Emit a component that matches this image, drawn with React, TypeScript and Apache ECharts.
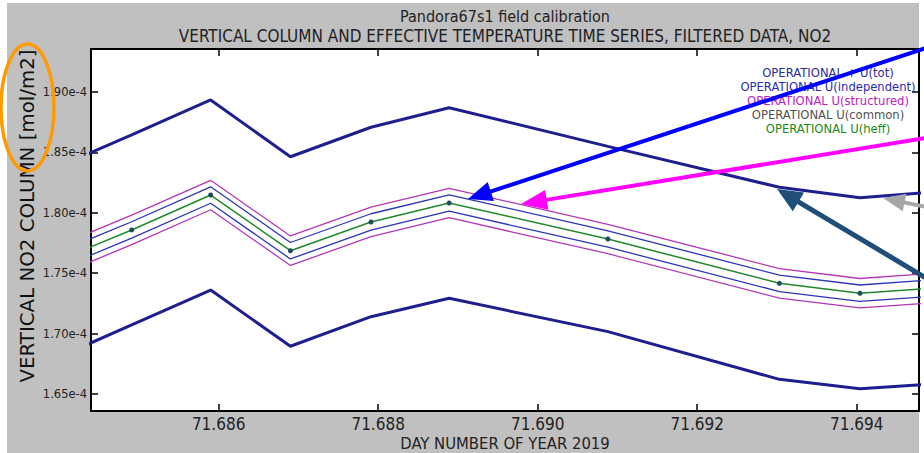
import React, { useEffect, useRef } from "react";
import * as echarts from "echarts";

// Day number of year 2019 for each measurement
const dayOfYear = [71.68391, 71.68491, 71.6859, 71.6869, 71.68791, 71.68889, 71.69088, 71.69303, 71.69404, 71.69504];
// Vertical NO2 column [mol/m2]
const operational = [1.7584e-4, 1.7858e-4, 1.8147e-4, 1.7686e-4, 1.7924e-4, 1.8081e-4, 1.7783e-4, 1.7416e-4, 1.7334e-4, 1.7381e-4];
const totUpper = [1.8357e-4, 1.8646e-4, 1.8934e-4, 1.8464e-4, 1.8708e-4, 1.887e-4, 1.855e-4, 1.8211e-4, 1.8125e-4, 1.8175e-4];
const totLower = [1.678e-4, 1.7072e-4, 1.736e-4, 1.6895e-4, 1.714e-4, 1.7292e-4, 1.7016e-4, 1.6621e-4, 1.6543e-4, 1.6587e-4];
const indepUpper = [1.7652e-4, 1.7926e-4, 1.8215e-4, 1.7754e-4, 1.7992e-4, 1.8149e-4, 1.7851e-4, 1.7484e-4, 1.7402e-4, 1.7449e-4];
const indepLower = [1.7516e-4, 1.779e-4, 1.8079e-4, 1.7618e-4, 1.7856e-4, 1.8013e-4, 1.7715e-4, 1.7348e-4, 1.7266e-4, 1.7313e-4];
const structUpper = [1.7706e-4, 1.798e-4, 1.8269e-4, 1.7808e-4, 1.8046e-4, 1.8203e-4, 1.7905e-4, 1.7538e-4, 1.7456e-4, 1.7503e-4];
const structLower = [1.7462e-4, 1.7736e-4, 1.8025e-4, 1.7564e-4, 1.7802e-4, 1.7959e-4, 1.7661e-4, 1.7294e-4, 1.7212e-4, 1.7259e-4];

const legendLabels = [
  "OPERATIONAL + U(tot)",
  "OPERATIONAL U(independent)",
  "OPERATIONAL U(structured)",
  "OPERATIONAL U(common)",
  "OPERATIONAL U(heff)",
];
const legendColors = ["#2a2a9c", "#2a2ab4", "#c020c0", "#505050", "#1a8a1a"];

const titleLines = [
  "Pandora67s1 field calibration",
  "VERTICAL COLUMN AND EFFECTIVE TEMPERATURE TIME SERIES, FILTERED DATA, NO2",
];
const titleSizes = [16, 17];
const xAxisName = "DAY NUMBER OF YEAR 2019";
const yAxisName = "VERTICAL NO2 COLUMN [mol/m2]";

const NARROW = "'Liberation Sans Narrow', 'DejaVu Sans Condensed', 'Roboto Condensed', sans-serif";
const SANS = "'DejaVu Sans', Verdana, sans-serif";

const pairs = (ys: number[]) => dayOfYear.map((x, i) => [x, ys[i]]);

function arrow(sx: number, sy: number, tx: number, ty: number, color: string, w: number, L: number, W: number) {
  const dx = tx - sx;
  const dy = ty - sy;
  const len = Math.sqrt(dx * dx + dy * dy);
  const ux = dx / len;
  const uy = dy / len;
  const bx = tx - ux * L;
  const by = ty - uy * L;
  const nx = -uy;
  const ny = ux;
  return [
    {
      type: "line",
      z: 100,
      silent: true,
      shape: { x1: sx, y1: sy, x2: bx + ux * 2, y2: by + uy * 2 },
      style: { stroke: color, lineWidth: w },
    },
    {
      type: "polygon",
      z: 101,
      silent: true,
      shape: {
        points: [
          [tx, ty],
          [bx + nx * W, by + ny * W],
          [bx - nx * W, by - ny * W],
        ],
      },
      style: { fill: color },
    },
  ];
}

export default function App() {
  const ref = useRef<HTMLDivElement>(null);
  useEffect(() => {
    if (!ref.current) return;
    const chart = echarts.init(ref.current, null, { renderer: "svg" });
    const lineSeries = (name: string, data: number[], color: string, width: number, z = 2) => ({
      name,
      type: "line",
      data: pairs(data),
      showSymbol: false,
      symbol: "none",
      lineStyle: { color, width },
      itemStyle: { color },
      z,
    });
    const tickStyle = { show: true, inside: true, length: 7, lineStyle: { color: "#000", width: 1.5 } };
    const axisLine = { show: true, onZero: false, lineStyle: { color: "#000", width: 2 } };
    const option: any = {
      animation: false,
      backgroundColor: "transparent",
      grid: {
        left: 91,
        top: 49,
        right: 5,
        bottom: 42,
        containLabel: false,
        outerBoundsMode: "none",
        show: true,
        backgroundColor: "#ffffff",
        borderWidth: 0,
      },
      xAxis: [
        {
          type: "value",
          min: 71.6844,
          max: 71.69478,
          splitNumber: 5,
          position: "bottom",
          axisLine,
          axisTick: tickStyle,
          splitLine: { show: false },
          axisLabel: {
            showMinLabel: false,
            showMaxLabel: false,
            margin: 5,
            color: "#222",
            fontFamily: NARROW,
            fontSize: 17,
            lineHeight: 16,
            formatter: (v: number) => v.toFixed(3),
          },
        },
        {
          type: "value",
          min: 71.6844,
          max: 71.69478,
          splitNumber: 5,
          position: "top",
          axisLine,
          axisTick: tickStyle,
          splitLine: { show: false },
          axisLabel: { show: false },
        },
      ],
      yAxis: [
        {
          type: "value",
          min: 1.6359e-4,
          max: 1.9356e-4,
          splitNumber: 6,
          position: "left",
          axisLine,
          axisTick: tickStyle,
          splitLine: { show: false },
          axisLabel: {
            showMinLabel: false,
            showMaxLabel: false,
            margin: 4,
            color: "#222",
            fontFamily: SANS,
            fontSize: 11.5,
            formatter: (v: number) => v.toExponential(2),
          },
        },
        {
          type: "value",
          min: 1.6359e-4,
          max: 1.9356e-4,
          splitNumber: 6,
          position: "right",
          axisLine,
          axisTick: tickStyle,
          splitLine: { show: false },
          axisLabel: { show: false },
        },
      ],
      series: [
        lineSeries("OPERATIONAL U(structured) +", structUpper, "#b535b5", 1.3),
        lineSeries("OPERATIONAL U(structured) -", structLower, "#b535b5", 1.3),
        lineSeries("OPERATIONAL U(independent) +", indepUpper, "#2a35b8", 1.3),
        lineSeries("OPERATIONAL U(independent) -", indepLower, "#2a35b8", 1.3),
        {
          name: "OPERATIONAL",
          type: "line",
          data: pairs(operational),
          symbol: "circle",
          symbolSize: 5,
          showSymbol: true,
          lineStyle: { color: "#1e8a2a", width: 1.5 },
          itemStyle: { color: "#1d4a5e", borderWidth: 0 },
          z: 3,
        },
        lineSeries("OPERATIONAL + U(tot)", totUpper, "#1e1e8e", 3, 4),
        lineSeries("OPERATIONAL - U(tot)", totLower, "#1e1e8e", 3, 4),
      ],
      graphic: [
        ...titleLines.map((t, i) => ({
          type: "text",
          x: 505,
          y: 16 + i * 20,
          silent: true,
          style: {
            text: t,
            align: "center",
            verticalAlign: "middle",
            fill: "#222",
            font: `${titleSizes[i]}px ${NARROW}`,
          },
        })),
        {
          type: "text",
          x: 505,
          y: 443,
          silent: true,
          style: {
            text: xAxisName,
            align: "center",
            verticalAlign: "middle",
            fill: "#222",
            font: `16.5px ${NARROW}`,
            lineHeight: 16,
          },
        },
        {
          type: "text",
          x: 27,
          y: 216,
          rotation: Math.PI / 2,
          silent: true,
          style: {
            text: yAxisName,
            align: "center",
            verticalAlign: "middle",
            fill: "#111",
            font: `19.8px ${SANS}`,
          },
        },
        ...legendLabels.map((t, i) => ({
          type: "text",
          x: 828,
          y: 73 + i * 14,
          z: 50,
          silent: true,
          style: {
            text: t,
            align: "center",
            verticalAlign: "middle",
            fill: legendColors[i],
            font: `11.6px ${SANS}`,
          },
        })),
        {
          type: "ellipse",
          z: 100,
          silent: true,
          shape: { cx: 27.5, cy: 107.5, rx: 26.5, ry: 63.5 },
          style: { fill: "none", stroke: "#ff9a00", lineWidth: 3.5 },
        },
        ...arrow(926, 48, 468, 199, "#0000ff", 4, 24, 10),
        ...arrow(926, 138, 521, 204, "#ff00ff", 4, 26, 10),
        ...arrow(926, 278, 777, 189, "#1f4e79", 5, 25, 11),
        ...arrow(926, 207, 883, 198, "#a6a6a6", 4, 22, 9),
      ],
    };
    chart.setOption(option);
    return () => chart.dispose();
  }, []);
  return (
    <div style={{ position: "fixed", left: 0, top: 0, width: 924, height: 453, background: "#ffffff", overflow: "hidden" }}>
      <div style={{ position: "absolute", left: 7, top: 3, width: 912, height: 450, background: "#c0c0c0" }} />
      <div ref={ref} style={{ position: "absolute", left: 0, top: 0, width: 924, height: 453 }} />
    </div>
  );
}
